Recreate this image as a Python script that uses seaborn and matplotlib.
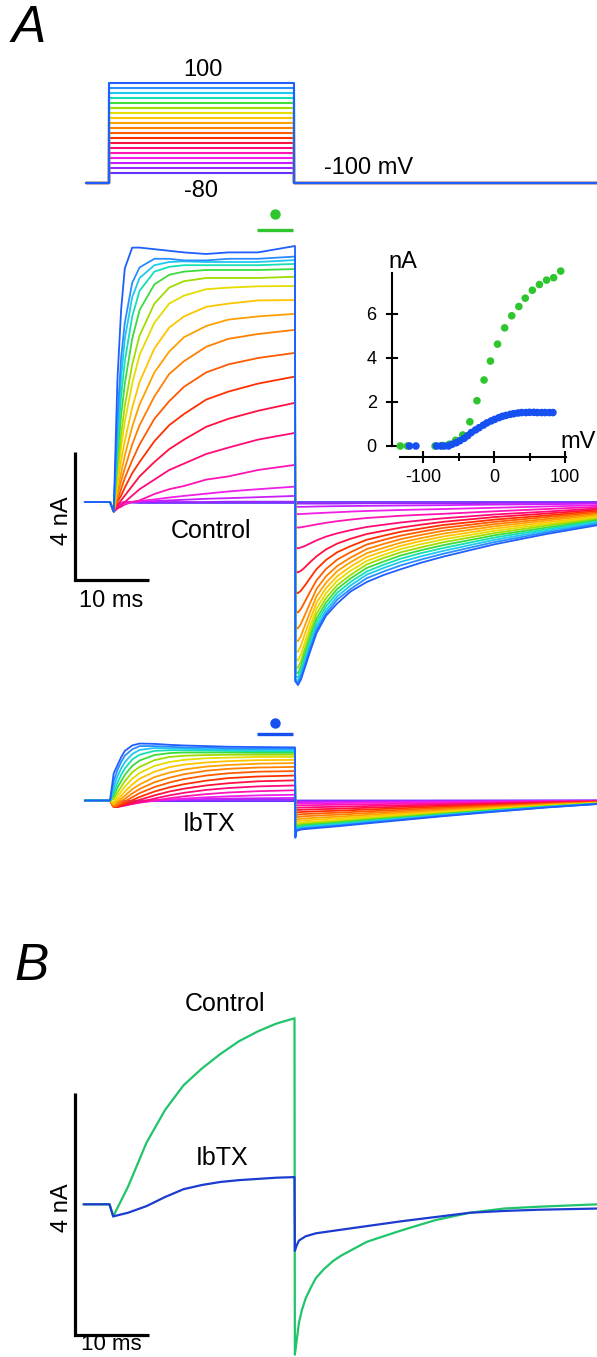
import numpy as np
import matplotlib
matplotlib.use("Agg")
import matplotlib.pyplot as plt
import seaborn as sns

# ---------------- data ----------------
STEP_MV = [100, 90, 80, 70, 60, 50, 40, 30, 20, 10, 0, -10, -20, -30, -40, -50, -60, -70, -80]
HOLD_MV = -100
PULSE_START_MS = 0.0
PULSE_END_MS = 25.0
PROTO_T_START = -3.1
REC_T_END = 66.0

# activation phase sample times (ms) and currents (nA), control, rows = STEP_MV
T_ON = [-3.4, 0, 0.5, 1, 1.5, 2, 3, 4, 6, 8, 10, 13, 16, 20, 25]
CTRL_ON = [
    [0, 0, -0.3, 3.8, 6.0, 7.3, 7.95, 7.95, 7.9, 7.85, 7.8, 7.75, 7.8, 7.8, 8.0],
    [0, 0, -0.3, 2.6, 4.5, 5.6, 6.85, 7.33, 7.6, 7.6, 7.55, 7.55, 7.6, 7.6, 7.67],
    [0, 0, -0.3, 2.2, 3.9, 5.1, 6.4, 7.0, 7.4, 7.5, 7.52, 7.5, 7.5, 7.5, 7.56],
    [0, 0, -0.3, 1.8, 3.3, 4.4, 5.8, 6.6, 7.2, 7.35, 7.4, 7.4, 7.4, 7.4, 7.44],
    [0, 0, -0.3, 1.4, 2.7, 3.7, 5.1, 6.0, 6.8, 7.1, 7.2, 7.25, 7.25, 7.25, 7.28],
    [0, 0, -0.3, 1.0, 2.1, 3.0, 4.3, 5.2, 6.2, 6.7, 6.9, 7.0, 7.0, 7.0, 7.04],
    [0, 0, -0.3, 0.8, 1.7, 2.5, 3.7, 4.6, 5.6, 6.2, 6.45, 6.65, 6.7, 6.74, 6.75],
    [0, 0, -0.3, 0.5, 1.3, 1.9, 2.95, 3.75, 4.8, 5.45, 5.8, 6.1, 6.2, 6.3, 6.31],
    [0, 0, -0.3, 0.35, 0.9, 1.45, 2.35, 3.05, 4.05, 4.7, 5.15, 5.5, 5.7, 5.8, 5.88],
    [0, 0, -0.3, 0.2, 0.65, 1.05, 1.8, 2.4, 3.3, 4.0, 4.4, 4.85, 5.1, 5.25, 5.38],
    [0, 0, -0.3, 0.05, 0.4, 0.75, 1.3, 1.8, 2.6, 3.15, 3.6, 4.05, 4.3, 4.5, 4.66],
    [0, 0, -0.3, 0.0, 0.2, 0.45, 0.9, 1.25, 1.9, 2.4, 2.75, 3.2, 3.45, 3.7, 3.92],
    [0, 0, -0.3, -0.1, 0.05, 0.2, 0.5, 0.8, 1.25, 1.65, 1.95, 2.35, 2.6, 2.85, 3.10],
    [0, 0, -0.3, -0.2, -0.1, 0.0, 0.2, 0.4, 0.7, 1.0, 1.2, 1.5, 1.7, 1.95, 2.16],
    [0, 0, -0.3, -0.2, -0.15, -0.08, 0.0, 0.05, 0.25, 0.4, 0.5, 0.7, 0.8, 1.0, 1.16],
    [0, 0, -0.3, -0.15, -0.05, 0.0, 0.0, 0.03, 0.08, 0.14, 0.19, 0.26, 0.33, 0.40, 0.48],
    [0, 0, -0.3, -0.12, -0.03, 0.0, 0.0, 0.01, 0.03, 0.05, 0.07, 0.1, 0.12, 0.15, 0.19],
    [0, 0, -0.3, -0.12, -0.03, 0.0, 0.0, 0.0, 0.0, 0.0, 0.0, 0.0, 0.01, 0.01, 0.01],
    [0, 0, -0.3, -0.12, -0.04, -0.02, -0.02, -0.03, -0.03, -0.03, -0.03, -0.03, -0.03, -0.03, -0.03],
]
# tail phase: times after pulse end (ms) and currents (nA), control
CTRL_TAIL_T = [0.05, 0.4, 0.8, 1.3, 2.0, 2.9, 4.2, 5.7, 7.5, 9.7, 12, 14.3, 17, 20, 27, 34, 41]
CTRL_TAIL = [
    [-5.6, -5.72, -5.55, -5.2, -4.7, -4.1, -3.55, -3.17, -2.8, -2.5, -2.28, -2.1, -1.9, -1.71, -1.32, -1.0, -0.72],
    [-5.6, -5.65, -5.46, -5.1, -4.6, -4.0, -3.48, -3.05, -2.72, -2.38, -2.17, -1.98, -1.8, -1.62, -1.25, -0.95, -0.68],
    [-5.55, -5.58, -5.38, -5.0, -4.5, -3.9, -3.38, -2.95, -2.61, -2.27, -2.06, -1.87, -1.7, -1.53, -1.18, -0.9, -0.64],
    [-5.45, -5.48, -5.28, -4.9, -4.4, -3.78, -3.26, -2.84, -2.5, -2.17, -1.96, -1.77, -1.6, -1.44, -1.11, -0.85, -0.6],
    [-5.3, -5.35, -5.14, -4.75, -4.25, -3.65, -3.14, -2.72, -2.39, -2.06, -1.86, -1.67, -1.51, -1.35, -1.04, -0.8, -0.56],
    [-5.15, -5.18, -4.98, -4.6, -4.1, -3.5, -3.0, -2.6, -2.28, -1.95, -1.75, -1.57, -1.42, -1.26, -0.97, -0.74, -0.52],
    [-4.9, -4.95, -4.76, -4.4, -3.92, -3.33, -2.85, -2.46, -2.15, -1.84, -1.65, -1.47, -1.32, -1.17, -0.9, -0.69, -0.48],
    [-4.65, -4.68, -4.49, -4.15, -3.7, -3.15, -2.69, -2.32, -2.02, -1.72, -1.54, -1.37, -1.22, -1.08, -0.83, -0.64, -0.44],
    [-4.3, -4.35, -4.19, -3.88, -3.46, -2.95, -2.52, -2.16, -1.88, -1.6, -1.43, -1.27, -1.13, -0.99, -0.76, -0.58, -0.4],
    [-3.9, -3.95, -3.81, -3.55, -3.18, -2.72, -2.32, -2.0, -1.74, -1.47, -1.31, -1.16, -1.03, -0.9, -0.69, -0.53, -0.36],
    [-3.4, -3.45, -3.34, -3.13, -2.82, -2.45, -2.09, -1.8, -1.57, -1.33, -1.18, -1.05, -0.93, -0.81, -0.62, -0.47, -0.32],
    [-2.8, -2.85, -2.77, -2.62, -2.39, -2.1, -1.81, -1.57, -1.38, -1.18, -1.05, -0.93, -0.83, -0.72, -0.55, -0.42, -0.28],
    [-2.15, -2.2, -2.15, -2.05, -1.89, -1.7, -1.48, -1.3, -1.15, -1.0, -0.9, -0.8, -0.71, -0.62, -0.47, -0.36, -0.24],
    [-1.42, -1.45, -1.42, -1.38, -1.3, -1.2, -1.08, -0.98, -0.88, -0.78, -0.71, -0.64, -0.575, -0.51, -0.39, -0.3, -0.2],
    [-0.78, -0.8, -0.79, -0.77, -0.74, -0.7, -0.65, -0.6, -0.55, -0.5, -0.465, -0.43, -0.4, -0.37, -0.29, -0.22, -0.15],
    [-0.37, -0.38, -0.375, -0.37, -0.36, -0.35, -0.335, -0.32, -0.3, -0.28, -0.265, -0.25, -0.235, -0.22, -0.18, -0.14, -0.1],
    [-0.15, -0.15, -0.15, -0.15, -0.145, -0.14, -0.135, -0.13, -0.125, -0.12, -0.115, -0.11, -0.105, -0.1, -0.08, -0.07, -0.05],
    [-0.05, -0.05, -0.05, -0.05, -0.05, -0.05, -0.05, -0.05, -0.045, -0.04, -0.04, -0.04, -0.04, -0.04, -0.03, -0.03, -0.02],
    [0.0, 0.0, 0.0, 0.0, 0.0, 0.0, 0.0, 0.0, 0.0, 0.0, 0.0, 0.0, 0.0, 0.0, 0.0, 0.0, 0.0],
]

# IbTX traces
IBTX_ON = [
    [0, 0, 0.85, 1.1, 1.35, 1.55, 1.72, 1.78, 1.77, 1.74, 1.72, 1.70, 1.68, 1.67, 1.66],
    [0, 0, 0.6, 0.95, 1.2, 1.4, 1.6, 1.7, 1.7, 1.68, 1.66, 1.65, 1.63, 1.62, 1.62],
    [0, 0, 0.4, 0.75, 1.0, 1.2, 1.45, 1.58, 1.64, 1.63, 1.62, 1.6, 1.59, 1.58, 1.58],
    [0, 0, 0.25, 0.55, 0.8, 1.0, 1.28, 1.43, 1.55, 1.57, 1.57, 1.56, 1.55, 1.54, 1.54],
    [0, 0, 0.15, 0.4, 0.6, 0.8, 1.08, 1.25, 1.42, 1.48, 1.5, 1.5, 1.5, 1.49, 1.49],
    [0, 0, 0.05, 0.25, 0.42, 0.6, 0.88, 1.05, 1.26, 1.36, 1.4, 1.42, 1.43, 1.43, 1.43],
    [0, 0, -0.05, 0.12, 0.28, 0.43, 0.68, 0.86, 1.08, 1.2, 1.27, 1.32, 1.34, 1.36, 1.36],
    [0, 0, -0.1, 0.02, 0.15, 0.28, 0.5, 0.68, 0.9, 1.04, 1.12, 1.19, 1.23, 1.26, 1.27],
    [0, 0, -0.15, -0.06, 0.05, 0.15, 0.35, 0.5, 0.73, 0.87, 0.97, 1.06, 1.11, 1.15, 1.17],
    [0, 0, -0.18, -0.12, -0.03, 0.05, 0.22, 0.36, 0.57, 0.71, 0.82, 0.93, 0.99, 1.03, 1.05],
    [0, 0, -0.2, -0.16, -0.09, -0.03, 0.1, 0.23, 0.42, 0.56, 0.67, 0.78, 0.85, 0.9, 0.92],
    [0, 0, -0.2, -0.19, -0.14, -0.09, 0.01, 0.11, 0.28, 0.41, 0.51, 0.62, 0.7, 0.75, 0.78],
    [0, 0, -0.2, -0.2, -0.17, -0.13, -0.06, 0.02, 0.16, 0.28, 0.37, 0.47, 0.54, 0.6, 0.63],
    [0, 0, -0.2, -0.2, -0.18, -0.16, -0.1, -0.05, 0.06, 0.16, 0.24, 0.33, 0.39, 0.44, 0.47],
    [0, 0, -0.2, -0.19, -0.17, -0.15, -0.11, -0.07, 0.0, 0.07, 0.13, 0.2, 0.25, 0.29, 0.32],
    [0, 0, -0.18, -0.15, -0.12, -0.1, -0.07, -0.05, -0.01, 0.03, 0.06, 0.1, 0.13, 0.16, 0.18],
    [0, 0, -0.15, -0.1, -0.07, -0.05, -0.03, -0.02, 0.0, 0.02, 0.03, 0.05, 0.06, 0.07, 0.08],
    [0, 0, -0.12, -0.06, -0.03, -0.02, -0.01, 0.0, 0.0, 0.0, 0.01, 0.01, 0.02, 0.02, 0.02],
    [0, 0, -0.1, -0.05, -0.03, -0.02, -0.02, -0.02, -0.02, -0.02, -0.02, -0.02, -0.02, -0.02, -0.02],
]
IBTX_TAIL_T = [0.05, 0.2, 1, 3, 6, 10, 15, 20, 27, 34, 41]
IBTX_TAIL_PEAK = [-0.91, -0.88, -0.85, -0.82, -0.78, -0.74, -0.69, -0.63, -0.57, -0.5,
                  -0.43, -0.36, -0.29, -0.22, -0.15, -0.09, -0.05, -0.02, 0.0]
IBTX_TAIL_SHAPE = [1.28, 1.04, 0.99, 0.945, 0.88, 0.78, 0.66, 0.54, 0.385, 0.24, 0.12]

# inset: I-V points
INSET_CTRL_MV = [-132, -122, -83, -73, -63, -54, -44, -34, -24, -14, -5, 5, 15, 25, 35, 44, 54, 64, 74, 84, 94]
INSET_CTRL_NA = [0, 0, 0, 0.02, 0.08, 0.26, 0.5, 1.1, 2.06, 3.0, 3.86, 4.63, 5.37, 5.92, 6.34,
                 6.72, 7.08, 7.34, 7.54, 7.65, 7.95]
INSET_IBTX_MV = [-119, -110, -81, -75, -70, -64, -59, -53, -48, -42, -37, -32, -26, -21, -15, -10,
                 -4, 1, 7, 12, 17, 23, 28, 34, 39, 45, 50, 56, 61, 67, 72, 78, 83]
INSET_IBTX_NA = [0, 0, 0, 0, 0, 0, 0.08, 0.15, 0.24, 0.35, 0.47, 0.61, 0.73, 0.83, 0.95, 1.05,
                 1.14, 1.21, 1.29, 1.35, 1.39, 1.44, 1.47, 1.50, 1.52, 1.52, 1.53, 1.53, 1.52,
                 1.52, 1.52, 1.52, 1.52]

# panel B
B_T_ON = [-3.5, 0, 0.5, 2.5, 5, 7.5, 10, 12.5, 15, 17.5, 20, 22.5, 25]
B_CTRL_ON = [0, 0, -0.2, 0.29, 1.02, 1.56, 1.97, 2.25, 2.49, 2.7, 2.86, 2.99, 3.08]
B_IBTX_ON = [0, 0, -0.2, -0.14, -0.03, 0.12, 0.25, 0.32, 0.37, 0.4, 0.42, 0.44, 0.45]
B_CTRL_TAIL_T = [0.05, 0.3, 0.6, 1.0, 1.5, 2.2, 2.9, 4.0, 5.2, 6.3, 7.5, 9.8, 14.5, 19.1, 23.7, 28.3, 33, 41]
B_CTRL_TAIL = [-2.49, -2.25, -1.96, -1.75, -1.56, -1.38, -1.22, -1.07, -0.94, -0.85, -0.77, -0.62,
               -0.43, -0.26, -0.14, -0.07, -0.04, 0.0]
B_IBTX_TAIL_T = [0.05, 0.3, 0.6, 1.5, 2.9, 7.5, 14.5, 19.1, 23.7, 28.3, 33, 41]
B_IBTX_TAIL = [-0.77, -0.68, -0.6, -0.53, -0.48, -0.4, -0.28, -0.21, -0.14, -0.11, -0.09, -0.07]

MEASURE_WIN_MS = (19.9, 24.7)

# ---------------- styles ----------------
COLORS = ['#1f5fff', '#2a8cff', '#1ec8f0', '#14e0b4', '#3cdc3c', '#a0dc00', '#e6dc00',
          '#ffc400', '#ffa000', '#ff8000', '#ff5a00', '#ff3000', '#ff1040', '#ff0a78',
          '#ff14b4', '#f01ee6', '#c81eff', '#9628ff', '#6432ff']
DOT_GREEN = '#2ec52e'
DOT_BLUE = '#1650f0'
B_GREEN = '#20c46a'
B_BLUE = '#1c3bd0'

sns.set_theme(style="white")
plt.rcParams["font.family"] = ["Liberation Sans", "DejaVu Sans"]

W, H = 597, 1357
fig = plt.figure(figsize=(W / 100, H / 100), dpi=100)
fig.patch.set_facecolor("white")
AXES = []


def mapped_axes(x0, y0, x1, y1, ox, sx, oy, sy):
    ax = fig.add_axes([x0 / W, 1 - y1 / H, (x1 - x0) / W, (y1 - y0) / H])
    lims = ((x0 - ox) / sx, (x1 - ox) / sx), ((oy - y1) / sy, (oy - y0) / sy)
    ax.set_xlim(*lims[0])
    ax.set_ylim(*lims[1])
    ax.set_facecolor("none")
    AXES.append((ax, lims))
    return ax


def ftext(x, y, s, size=17, **kw):
    fig.text(x / W, 1 - y / H, s, ha="center", va="center", fontsize=size, color="black", **kw)


def trace(ax, t, v, color, lw=1.3, z=2):
    sns.lineplot(x=np.asarray(t, float), y=np.asarray(v, float), ax=ax, color=color, lw=lw,
                 sort=False, estimator=None, legend=False, zorder=z)


def scalebar(ax, x0, y0, dx, dy):
    ax.plot([x0, x0, x0 + dx], [y0 + dy, y0, y0], color="black", lw=2.3,
            solid_joinstyle="miter", solid_capstyle="butt", zorder=5)


# ---- voltage protocol ----
axp = mapped_axes(0, 30, W, 210, 109, 7.4, 133, 0.5)
axp.axis("off")
for k in reversed(range(len(STEP_MV))):
    v = STEP_MV[k]
    tt = [PROTO_T_START, PULSE_START_MS, PULSE_START_MS, PULSE_END_MS, PULSE_END_MS, REC_T_END]
    vv = [HOLD_MV, HOLD_MV, v, v, HOLD_MV, HOLD_MV]
    trace(axp, tt, vv, COLORS[k], lw=1.5)

# ---- control traces ----
axc = mapped_axes(0, 195, W, 705, 110, 7.4, 502, 32)
axc.axis("off")
ctail_t = [PULSE_END_MS + d for d in CTRL_TAIL_T]
for k in reversed(range(len(STEP_MV))):
    trace(axc, T_ON + ctail_t, CTRL_ON[k] + CTRL_TAIL[k], COLORS[k])
axc.plot(MEASURE_WIN_MS, [8.5, 8.5], color=DOT_GREEN, lw=2.4, solid_capstyle="butt")
axc.plot([np.mean(MEASURE_WIN_MS)], [9.0], "o", ms=7.5, color=DOT_GREEN, mec="none")
scalebar(axc, -4.73, -2.44, 10, 4)

# ---- IbTX traces ----
axi_t = mapped_axes(0, 700, W, 900, 110, 7.4, 800.5, 32)
axi_t.axis("off")
itail_t = [PULSE_END_MS + d for d in IBTX_TAIL_T]
itail = np.outer(IBTX_TAIL_PEAK, IBTX_TAIL_SHAPE)
for k in reversed(range(len(STEP_MV))):
    trace(axi_t, T_ON + itail_t, IBTX_ON[k] + list(itail[k]), COLORS[k])
axi_t.plot(MEASURE_WIN_MS, [2.07, 2.07], color=DOT_BLUE, lw=2.4, solid_capstyle="butt")
axi_t.plot([np.mean(MEASURE_WIN_MS)], [2.42], "o", ms=7.5, color=DOT_BLUE, mec="none")

# ---- inset I-V ----
axn = mapped_axes(340, 240, W, 500, 494, 0.71, 446, 22)
sns.scatterplot(x=INSET_CTRL_MV, y=INSET_CTRL_NA, color=DOT_GREEN, s=30, edgecolor="none",
                ax=axn, zorder=3, legend=False)
sns.scatterplot(x=INSET_IBTX_MV, y=INSET_IBTX_NA, color=DOT_BLUE, s=30, edgecolor="none",
                ax=axn, zorder=4, legend=False)
for s in ("top", "right"):
    axn.spines[s].set_visible(False)
axn.spines["left"].set_position(("data", -143.7))
axn.spines["left"].set_bounds(0, 7.86)
axn.spines["bottom"].set_position(("data", -0.5))
axn.spines["bottom"].set_bounds(-132.4, 101.4)
for s in ("left", "bottom"):
    axn.spines[s].set_linewidth(1.5)
    axn.spines[s].set_color("black")
axn.set_xticks([-100, 0, 100])
axn.set_xticklabels(["-100", "0", "100"])
axn.set_xticks([-50, 50], minor=True)
axn.set_yticks([0, 2, 4, 6])
axn.set_yticklabels(["0", "2", "4", "6"])
axn.tick_params(axis="both", which="major", direction="inout", length=8, width=1.5,
                colors="black", labelsize=13, bottom=True, left=True)
axn.tick_params(axis="x", which="minor", direction="inout", length=5.5, width=1.5,
                colors="black", bottom=True)
axn.tick_params(axis="x", pad=5)
axn.tick_params(axis="y", pad=7)
axn.set_xlabel("")
axn.set_ylabel("")

# ---- panel B ----
axb = mapped_axes(0, 960, W, H, 109.5, 7.4, 1204.3, 60.4)
axb.axis("off")
trace(axb, B_T_ON + [PULSE_END_MS + d for d in B_CTRL_TAIL_T], B_CTRL_ON + B_CTRL_TAIL,
      B_GREEN, lw=1.6, z=2)
trace(axb, B_T_ON + [PULSE_END_MS + d for d in B_IBTX_TAIL_T], B_IBTX_ON + B_IBTX_TAIL,
      B_BLUE, lw=1.6, z=3)
scalebar(axb, -4.66, -2.156, 10, 4)

for ax, (xl, yl) in AXES:
    ax.set_xlim(*xl)
    ax.set_ylim(*yl)

# ---- texts ----
ftext(29, 29, "A", size=37, style="italic")
ftext(32, 966, "B", size=37, style="italic")
ftext(203, 70, "100")
ftext(201, 191, "-80")
ftext(369, 168, "-100 mV")
ftext(211, 531, "Control", size=18)
ftext(62, 521, "4 nA", rotation=90)
ftext(111, 601, "10 ms")
ftext(209, 824, "IbTX", size=18)
ftext(403, 262, "nA", size=17)
ftext(578, 442, "mV", size=17)
ftext(225, 1004, "Control", size=18)
ftext(222, 1158, "IbTX", size=18)
ftext(62, 1208, "4 nA", rotation=90)
ftext(111, 1345, "10 ms", size=16)

fig.savefig("out.png", dpi=100, facecolor="white")
